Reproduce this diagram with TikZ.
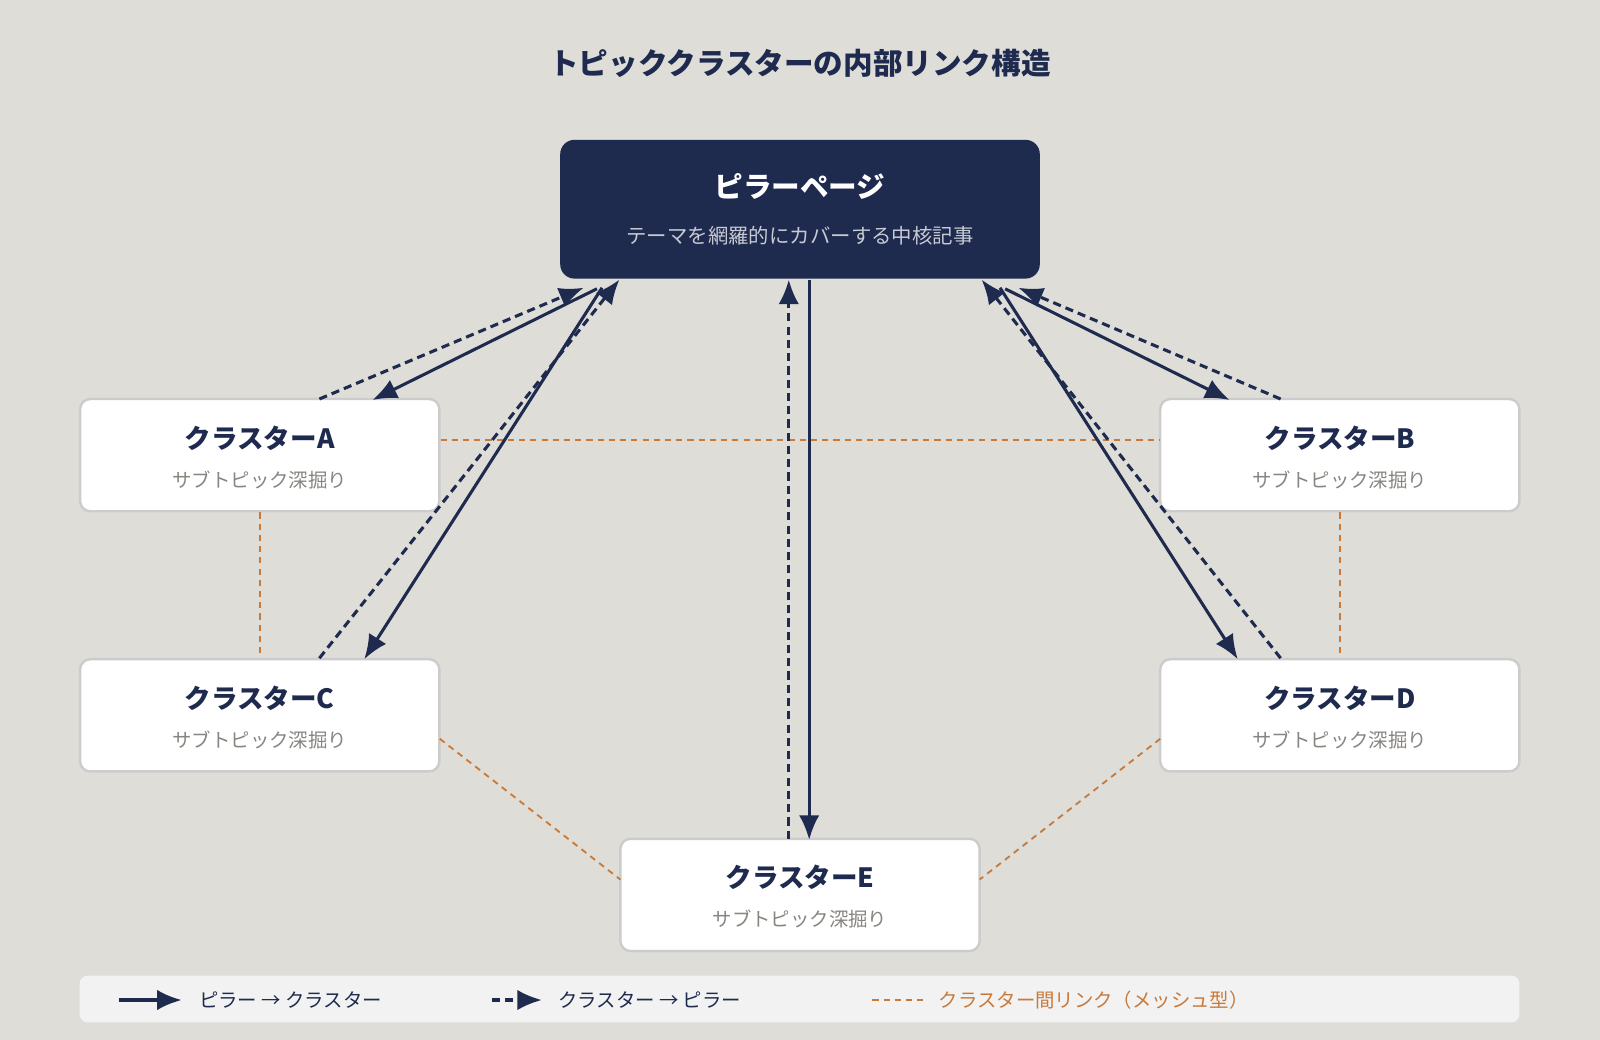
\documentclass[tikz,border=0pt]{standalone}
\usepackage{fontspec}
\setmainfont{Noto Sans CJK JP}
\newfontfamily\jpb{Noto Sans CJK JP}[FakeBold=0]
\usetikzlibrary{arrows.meta}
\definecolor{navy}{HTML}{1E2A4E}
\definecolor{bg}{HTML}{DEDDD8}
\definecolor{org}{HTML}{C87A3A}
\definecolor{sub}{HTML}{888580}
\tikzset{
  box/.style={draw=black!20,line width=1.2pt,fill=white,rounded corners=5pt,minimum width=176pt,minimum height=55pt,inner sep=0},
  ttl/.style={text=navy,font=\fontsize{13}{15}\selectfont\bfseries},
  sbt/.style={text=sub,font=\fontsize{9.5}{11}\selectfont},
  sol/.style={draw=navy,line width=1.5pt,-{Latex[length=12pt,width=10pt]}},
  dsh/.style={sol,dash pattern=on 4pt off 2.5pt},
  mesh/.style={draw=org,line width=0.9pt,dash pattern=on 3pt off 2.5pt},
}
\begin{document}
\begin{tikzpicture}[x=0.5pt,y=-0.5pt]
\fill[bg] (0,0) rectangle (1568,1019);
\useasboundingbox (0,0) rectangle (1568,1019);
\node[ttl,font=\fontsize{14.5}{17}\selectfont\bfseries] (title) at (784,62) {トピッククラスターの内部リンク構造};
\node[fill=navy,rounded corners=7pt,minimum width=235pt,minimum height=68pt] (P) at (784,205) {};
\node[text=white,font=\fontsize{14}{16}\selectfont\bfseries] (Pt) at (784,183) {ピラーページ};
\node[text=navy!25!white,font=\fontsize{10}{12}\selectfont] (Ps) at (784,231) {テーマを網羅的にカバーする中核記事};
\foreach \n/\x/\y/\l in {A/254.5/446/A,B/1313/446/B,C/254.5/701/C,D/1313/701/D,E/784/877/E}{
  \node[box] (\n) at (\x,\y) {};
  \node[ttl] (\n t) at (\x,\y-17) {クラスター\l};
  \node[sbt] (\n s) at (\x,\y+24) {サブトピック深掘り};
}
% coordinates
\coordinate (p1) at (585,283); \coordinate (a1) at (365,392);
\coordinate (a2) at (313,391); \coordinate (p2) at (572,282);
\coordinate (p3) at (590,282); \coordinate (c1) at (357,646);
\coordinate (c2) at (313,645); \coordinate (p4) at (607,274);
\coordinate (p5) at (793,274); \coordinate (e1) at (793,823);
\coordinate (e2) at (773,822); \coordinate (p6) at (773,274);
\coordinate (p7) at (985,283); \coordinate (b1) at (1205,392);
\coordinate (b2) at (1255,391); \coordinate (p8) at (998,282);
\coordinate (p9) at (980,282); \coordinate (d1) at (1213,646);
\coordinate (d2) at (1255,645); \coordinate (p10) at (962,274);
% mesh
\draw[mesh] (A.east |- 0,431) -- (B.west |- 0,431);
\draw[mesh] (A.south) -- (C.north);
\draw[mesh] (B.south) -- (D.north);
\draw[mesh] (431,724) -- (608,862);
\draw[mesh] (1137,724) -- (960,862);
% arrows
\draw[sol] (p1) -- (a1); \draw[dsh] (a2) -- (p2);
\draw[sol] (p3) -- (c1); \draw[dsh] (c2) -- (p4);
\draw[sol] (p5) -- (e1); \draw[dsh] (e2) -- (p6);
\draw[sol] (p7) -- (b1); \draw[dsh] (b2) -- (p8);
\draw[sol] (p9) -- (d1); \draw[dsh] (d2) -- (p10);
% legend
\node[fill=black!5!white,rounded corners=4pt,minimum width=705.5pt,minimum height=23pt,inner sep=0] (L) at (783.5,979) {};
\coordinate (l1) at (117,980); \coordinate (l2) at (178,980);
\coordinate (l3) at (482,980); \coordinate (l4) at (531,980);
\coordinate (l5) at (855,980); \coordinate (l6) at (905,980);
\draw[sol] (l1) -- (l2);
\draw[dsh] (l3) -- (l4);
\draw[mesh] (l5) -- (l6);
\node[anchor=west,text=navy,font=\fontsize{9.5}{11}\selectfont] (t1) at (188,980) {ピラー → クラスター};
\node[anchor=west,text=navy,font=\fontsize{9.5}{11}\selectfont] (t2) at (540,980) {クラスター → ピラー};
\node[anchor=west,text=org,font=\fontsize{9.5}{11}\selectfont] (t3) at (913,980) {クラスター間リンク（メッシュ型）};
\end{tikzpicture}
\end{document}
